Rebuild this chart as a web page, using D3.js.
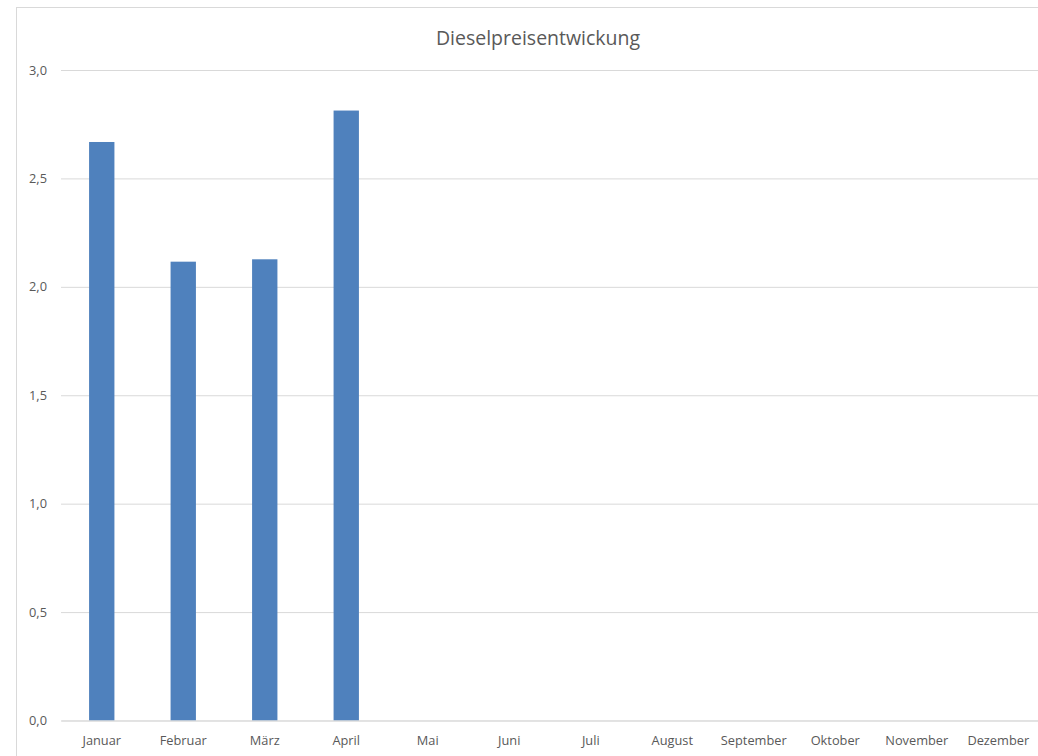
<!DOCTYPE html>
<html><head><meta charset="utf-8">
<script src="https://cdn.jsdelivr.net/npm/d3@7"></script>
<style>body{margin:0;background:#fff;overflow:hidden;} svg{display:block;}</style>
</head><body>
<script>
const months = ["Januar","Februar","März","April","Mai","Juni","Juli","August","September","Oktober","November","Dezember"];
const values = [2.668, 2.116, 2.127, 2.813, null, null, null, null, null, null, null, null];
const yTicks = [0, 0.5, 1.0, 1.5, 2.0, 2.5, 3.0];
const title = "Dieselpreisentwickung";

const W = 1038, H = 756;
const m = {left: 61, right: -1, top: 70, bottom: 35.5};
const font = "'Open Sans', Lato, sans-serif";
const svg = d3.select("body").append("svg").attr("width", W).attr("height", H);

svg.append("rect").attr("x", 16.5).attr("y", 7.5).attr("width", W + 10).attr("height", H + 10)
  .attr("fill", "#fff").attr("stroke", "#d9d9d9").attr("stroke-width", 1);

const x = d3.scaleBand().domain(months).range([m.left, W - m.right]).paddingInner(0.689).paddingOuter(0.3445);
const y = d3.scaleLinear().domain([0, 3]).range([H - m.bottom, m.top]);

const fmt = d => d3.format(".1f")(d).replace(".", ",");

const yAxis = svg.append("g").attr("transform", `translate(${m.left},0)`)
  .call(d3.axisLeft(y).tickValues(yTicks).tickFormat(fmt).tickSize(-(W - m.left - m.right)).tickPadding(14));
yAxis.select(".domain").remove();
yAxis.selectAll("line").attr("stroke", "#d9d9d9").attr("stroke-width", 1);
yAxis.selectAll("text").attr("fill", "#595959").style("font-family", font).style("font-size", "12.8px");

const data = months.map((mo, i) => ({mo, v: values[i]})).filter(d => d.v != null);
svg.append("g").selectAll("rect").data(data).join("rect")
  .attr("x", d => x(d.mo)).attr("width", x.bandwidth())
  .attr("y", d => y(d.v)).attr("height", d => y(0) - y(d.v))
  .attr("fill", "#4f81bd");

const xAxis = svg.append("g").attr("transform", `translate(0,${y(0)})`)
  .call(d3.axisBottom(x).tickSize(0).tickPadding(15));
xAxis.select(".domain").attr("stroke", "#d9d9d9");
xAxis.selectAll("text").attr("fill", "#595959").style("font-family", font).style("font-size", "12.8px");

svg.append("text").attr("x", 538).attr("y", 45).attr("text-anchor", "middle")
  .attr("fill", "#595959").style("font-family", font).style("font-size", "19.5px").text(title);
</script>
</body></html>
